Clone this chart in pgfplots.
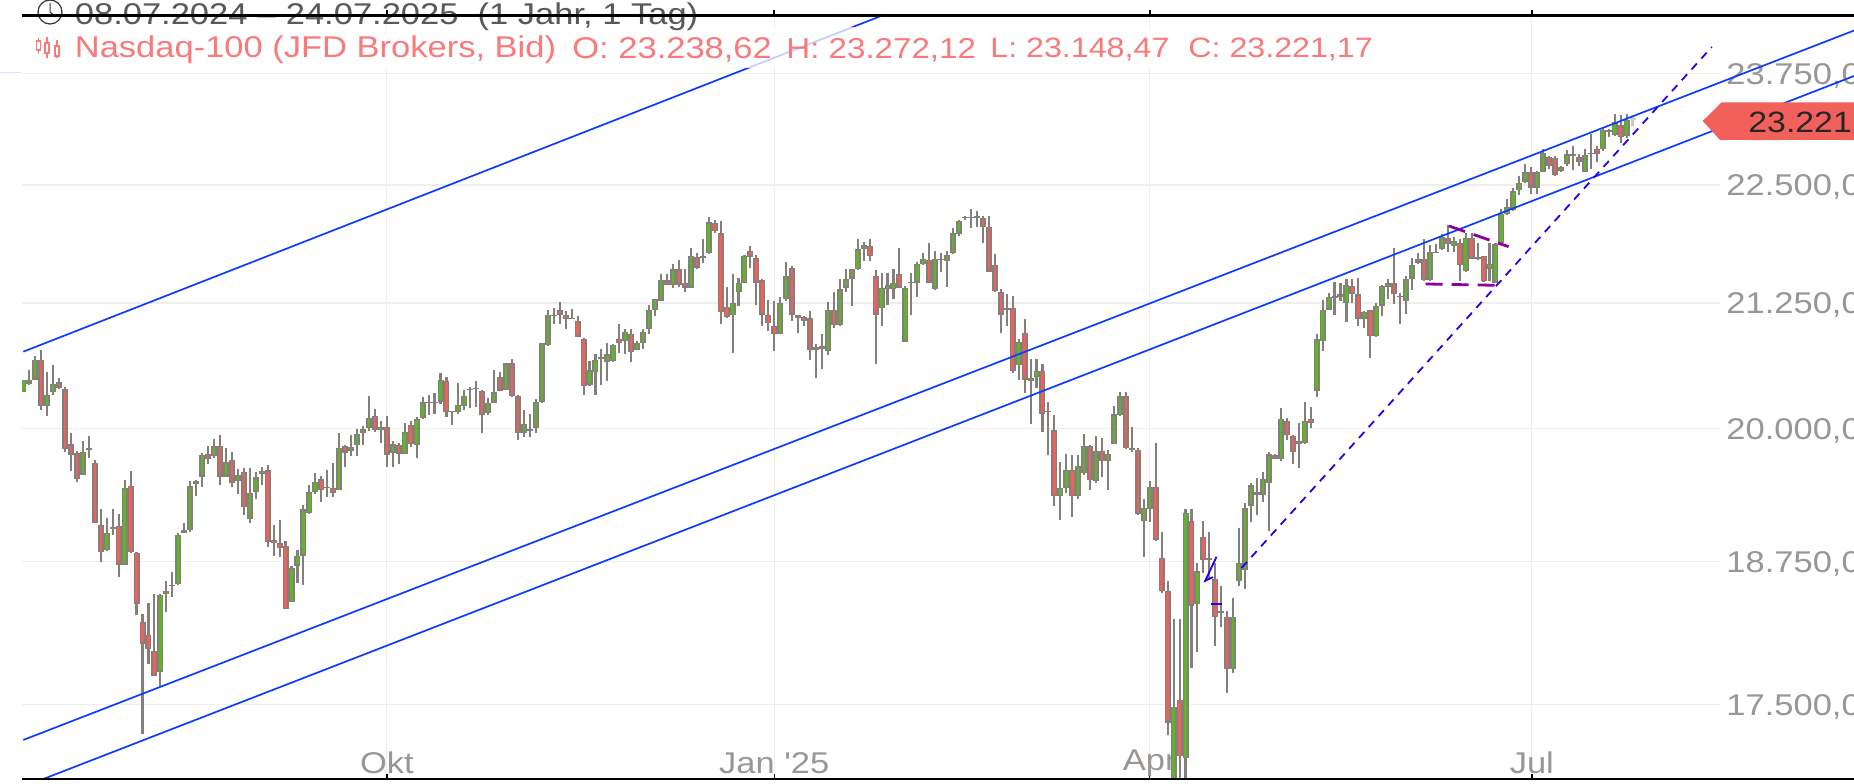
\documentclass[border=0pt]{standalone}
\usepackage{pgfplots}
\usepackage{pgfplotstable}
\usepackage{fontspec}
\pgfplotsset{compat=1.18}
\setmainfont{Liberation Sans}
\newfontfamily\wf[FakeStretch=1.15]{Liberation Sans}
\definecolor{wick}{HTML}{857F7B}
\definecolor{cred}{HTML}{F0605A}
\definecolor{cgreen}{HTML}{5FB528}
\definecolor{gridc}{HTML}{EEEEEE}
\definecolor{lineb}{HTML}{0A3CFF}
\definecolor{dashb}{HTML}{2800E8}
\definecolor{purp}{HTML}{9000A0}
\definecolor{lab}{HTML}{9A9694}
\definecolor{head}{HTML}{F87A7A}
\definecolor{tag}{HTML}{F2605C}
% columns: index, low, body bottom, body top, high
\pgfplotstableread{
x L BL BH H
0 20356 20356 20470 20477
1 20420 20437 20470 20571
2 20470 20477 20672 20712
4 20121 20218 20329 20554
5 20329 20353 20430 20622
10 19553 19560 19778 19877
11 19714 19791 19809 19923
14 18845 18853 19014 19153
15 18999 19051 19070 19236
17 18724 18724 19430 19507
23 17654 17777 18451 18460
24 18299 18460 18489 18577
25 18431 18527 18539 18659
26 18542 18548 18999 19014
27 19014 19014 19039 19107
28 19021 19036 19452 19501
29 19359 19470 19495 19507
30 19446 19538 19747 19760
32 19717 19735 19828 19901
34 19532 19538 19677 19815
36 19378 19495 19553 19615
38 19101 19138 19384 19624
39 19329 19399 19532 19584
40 19461 19563 19593 19630
45 18387 18387 18694 18709
46 18557 18715 18807 18853
47 18542 18807 19230 19276
48 19184 19199 19390 19461
49 19378 19393 19492 19569
51 19344 19430 19436 19606
53 19409 19415 19815 19954
55 19738 19784 19821 19938
56 19738 19840 19945 19994
57 19840 19954 19994 20017
58 19975 20000 20101 20316
60 19861 19982 20013 20074
62 19630 19760 19846 19877
64 19754 19754 19969 20050
66 19714 19837 20091 20108
67 20091 20101 20252 20309
68 20124 20249 20259 20326
70 20235 20259 20477 20538
72 20034 20155 20168 20168
73 20134 20158 20225 20444
74 20181 20218 20319 20370
75 20192 20373 20383 20403
76 20202 20380 20390 20460
78 20124 20151 20249 20292
79 20242 20249 20349 20571
81 20370 20376 20638 20645
84 19914 19960 20040 20175
85 19914 19975 19991 20141
86 19951 20000 20259 20286
87 20242 20252 20840 20847
88 20813 20820 21132 21173
89 21032 21116 21132 21200
92 21089 21089 21099 21193
95 20417 20427 20568 20662
96 20326 20551 20672 20736
97 20420 20679 20706 20780
98 20467 20655 20729 20840
99 20652 20662 20820 20830
101 20729 20864 20954 20988
103 20773 20773 20847 20864
104 20780 20840 20958 20981
105 20931 20981 21183 21233
106 21122 21176 21292 21295
107 21268 21275 21488 21548
109 21408 21432 21600 21653
112 21408 21408 21740 21828
114 21663 21719 21740 21922
115 21758 21768 22097 22155
119 20739 21126 21250 21548
120 21216 21362 21460 21504
121 21453 21460 21740 21747
127 20931 20931 21250 21313
128 21268 21292 21530 21680
133 20494 20773 20806 20830
135 20719 20763 21183 21257
137 21015 21021 21390 21495
138 21362 21408 21502 21600
139 21216 21502 21600 21600
140 21593 21600 21810 21922
141 21688 21817 21856 21887
144 21015 21200 21408 21565
145 21233 21398 21432 21558
146 21292 21390 21460 21600
148 20857 20857 21408 21425
149 21126 21456 21467 21558
150 21307 21460 21653 21677
151 21646 21653 21712 21775
153 21383 21390 21712 21793
154 21572 21698 21712 21775
155 21418 21688 21747 21793
156 21758 21768 21978 22038
157 21950 21968 22108 22125
158 22125 22143 22153 22160
159 22038 22143 22153 22244
160 22048 22143 22160 22223
165 21015 21183 21196 21338
167 20477 20622 20853 20887
169 20040 20460 20494 20685
170 20393 20504 20561 20679
172 19743 20155 20168 20259
174 19129 19355 19433 19681
175 19386 19433 19603 19758
177 19330 19355 19640 19743
178 19557 19572 19833 19944
180 19473 19495 19783 19929
182 19411 19690 19758 19789
183 19851 19851 20134 20215
184 20114 20124 20316 20349
186 19774 19789 19814 20013
188 18797 19123 19247 19324
189 19113 19231 19439 19495
193 16876 16876 17475 18237
195 16876 17051 19200 19231
197 17950 18369 18662 18735
201 18164 18290 18311 18528
203 17768 17798 18252 18419
204 18530 18574 18741 19061
205 18507 18677 19247 19293
206 19113 19268 19458 19485
207 19175 19371 19392 19526
208 19299 19371 19516 19588
209 19030 19479 19749 19774
211 19690 19702 20091 20192
215 19852 19858 20067 20259
217 20309 20366 20880 20931
218 20763 20864 21183 21278
219 21176 21183 21313 21355
220 21132 21303 21327 21467
221 21268 21313 21338 21453
222 21055 21250 21432 21495
225 20998 21089 21156 21166
227 20907 20914 21216 21250
228 21116 21223 21425 21435
229 21292 21415 21453 21495
231 21032 21313 21327 21355
232 21142 21268 21502 21530
233 21383 21502 21642 21723
234 21653 21670 21712 21768
236 21478 21485 21782 21852
237 21775 21775 21786 21863
238 21803 21810 21943 21968
240 21782 21845 21898 21943
242 21572 21583 21933 21985
244 21698 21712 21733 21880
246 21478 21600 21653 21880
247 21460 21460 21863 21880
248 21872 21879 22186 22245
249 22175 22186 22263 22350
250 22221 22228 22437 22472
251 22395 22444 22526 22600
252 22526 22537 22638 22731
254 22402 22465 22638 22656
255 22638 22645 22850 22898
258 22638 22649 22701 22712
259 22712 22731 22835 22879
260 22664 22824 22842 22924
262 22638 22645 22831 22898
263 22675 22835 22850 23058
265 22872 22898 23110 23140
266 23028 23084 23110 23121
267 23036 23047 23196 23289
269 23021 23036 23222 23289
}\upT
\pgfplotstableread{
x L BL BH H
3 20175 20218 20672 20773
6 20386 20396 20450 20497
7 19778 19806 20380 20403
8 19593 19747 19846 19960
9 19492 19513 19769 19784
12 19101 19101 19667 19692
13 18744 18836 19091 19236
16 18606 18724 19076 19193
18 18830 18836 19452 19590
19 18270 18372 18830 18836
20 17244 18020 18211 18284
21 17845 17976 18094 18381
22 17736 17742 17956 18460
31 19661 19707 19754 19831
33 19461 19538 19828 19938
35 19446 19476 19698 19778
37 19175 19252 19584 19624
41 18885 18928 19600 19646
42 18799 18922 18953 19091
43 18793 18876 18922 19128
44 18322 18328 18891 18937
50 19298 19415 19513 19544
52 19344 19384 19430 19667
54 19630 19769 19828 19840
59 19969 19985 20121 20185
61 19630 19747 20013 20118
63 19655 19754 19840 19861
65 19821 19846 20034 20074
69 20141 20242 20259 20343
71 20108 20158 20460 20504
77 19951 20131 20366 20376
80 20360 20366 20501 20551
82 20309 20316 20638 20685
83 19883 19954 20319 20326
90 21032 21132 21183 21260
91 20988 21089 21126 21166
93 20907 20907 21065 21116
94 20326 20410 20887 20897
100 20739 20840 20887 21032
102 20652 20753 20931 20981
108 21432 21439 21485 21548
110 21418 21432 21600 21698
111 21362 21408 21460 21607
113 21607 21618 21733 21775
116 21985 22003 22090 22125
117 21032 21159 21978 22108
118 21099 21109 21210 21418
122 21618 21733 21793 21845
123 21233 21460 21723 21747
124 21015 21132 21485 21495
125 20964 21042 21132 21285
126 20763 20931 21015 21268
129 21065 21132 21610 21635
130 20941 21092 21126 21132
131 21015 21065 21109 21122
132 20672 20773 21092 21166
134 20578 20780 20813 20937
136 20998 21021 21176 21368
142 21688 21740 21845 21922
143 20635 21132 21530 21590
147 21408 21408 21548 21828
152 21460 21460 21698 21873
161 21880 22048 22143 22167
162 21572 21575 22048 22160
163 21362 21373 21646 21758
164 20941 21132 21362 21390
166 20544 20561 21200 21320
168 20343 20477 20948 21082
171 19969 20141 20561 20628
173 19262 19355 19981 20124
176 19160 19355 19603 19743
179 19411 19504 19833 19836
181 19535 19690 19783 19907
185 19805 19814 20316 20349
187 19175 19185 19795 19814
190 18937 18952 19439 19861
191 18466 18486 18782 19020
192 17241 17344 18486 18574
194 16876 17066 17534 18237
196 17812 18354 19123 19237
198 18647 18766 18977 19123
199 18589 18766 18782 19023
200 18003 18252 18589 18735
202 17593 17798 18252 18311
210 19702 19712 19743 19758
212 19888 19935 20074 20101
213 19659 19774 19929 19938
214 19619 19851 19882 20047
216 20000 20047 20091 20208
223 21250 21348 21425 21495
224 21015 21089 21338 21513
226 20696 20914 21183 21183
230 21243 21338 21460 21828
235 21478 21485 21712 21922
239 21782 21870 21933 22073
241 21478 21646 21880 21922
243 21705 21712 21933 21985
245 21467 21478 21740 21740
253 22402 22472 22645 22701
256 22675 22712 22805 22824
257 22600 22612 22798 22824
261 22712 22749 22812 22842
264 22749 22842 22898 22924
268 22961 23028 23158 23270
}\downT
\pgfplotstableread{
x L BL BH H
270 23148 23221 23238 23272
}\lastT
\newcommand\cwick[2]{\addplot[draw=none,mark=none,forget plot,
  error bars/.cd,y dir=plus,y explicit,error mark=none,
  error bar style={line width=1.05pt,#2}]
  table[x=x,y=L,y error plus expr=\thisrow{H}-\thisrow{L}]{#1};}
\newcommand\cbody[2]{\addplot[draw=none,mark=none,forget plot,
  error bars/.cd,y dir=plus,y explicit,error mark=none,
  error bar style={line width=3pt,#2}]
  table[x=x,y=BL,y error plus expr=\thisrow{BH}-\thisrow{BL}]{#1};}
\newcommand\cfill[2]{\addplot[draw=none,mark=none,forget plot,
  error bars/.cd,y dir=plus,y explicit,error mark=none,
  error bar style={line width=1.25pt,#2}]
  table[x=x,y expr=\thisrow{BL}*1.0006,
   y error plus expr={max(\thisrow{BH}*0.9994-\thisrow{BL}*1.0006,0.01)}]{#1};}
\newcommand\PX[2]{({(#1-22)*0.5pt},{(779-#2)*0.5pt})}
\newcommand\hfont{\wf\fontsize{15}{18}\selectfont}
\begin{document}
\begin{tikzpicture}
\begin{axis}[
  at={(0,0)},anchor=south west,
  width=916pt,height=381.5pt,scale only axis,
  xmin=-0.218,xmax=307.16,
  ymode=log,ymin=16876,ymax=24419,
  axis line style={draw=none},
  set layers=standard,
  xtick={61,126,189,253.1},
  xticklabels={Okt,Jan '25,Apr,Jul},
  xtick pos=bottom,
  ytick={17500,18750,20000,21250,22500,23750},
  yticklabels={{17.500,00},{18.750,00},{20.000,00},{21.250,00},{22.500,00},{23.750,00}},
  yticklabel pos=right,
  grid=major,
  major grid style={draw=gridc,line width=0.6pt},
  tick align=inside,
  major tick length=2.5pt,
  x tick style={black,line width=0.7pt},
  y tick style={draw=none},
  minor tick num=0,
  x tick label style={font=\hfont,text=lab,anchor=center,yshift=8pt},
  y tick label style={font=\hfont,text=lab,anchor=east,xshift=16.5pt,yshift=-1.2pt,fill=white,inner ysep=1pt},
]
\cwick{\upT}{wick}
\cwick{\downT}{wick}
\cwick{\lastT}{wick!45}
\cbody{\upT}{wick}
\cbody{\downT}{wick}
\cbody{\lastT}{wick!40}
\cfill{\upT}{cgreen}
\cfill{\downT}{cred}
\cfill{\lastT}{cred!30}
\addplot[lineb,line width=0.85pt,forget plot] coordinates {(0,20755) (143.9,24419)};
\addplot[lineb,line width=0.85pt,forget plot] coordinates {(0,17198) (307.2,24248)};
\addplot[lineb,line width=0.85pt,forget plot] coordinates {(2.97,16868) (307.2,23720)};
\addplot[dashb,line width=0.9pt,dash pattern=on 4pt off 3.3pt,forget plot] coordinates {(204.4,18694) (283.3,24055)};
\addplot[dashb,line width=0.9pt,forget plot] coordinates {(200.2,18794) (198.3,18577) (199.6,18610)};
\addplot[dashb,line width=0.9pt,forget plot] coordinates {(199.2,18371) (201.1,18371)};
\addplot[purp,line width=1.4pt,dash pattern=on 8.5pt off 4.5pt,forget plot] coordinates {(239.2,22058) (249.2,21838)};
\addplot[purp,line width=1.4pt,dash pattern=on 8.5pt off 4.5pt,forget plot] coordinates {(235.3,21447) (247.3,21433)};
\end{axis}
% price tag, over the channel line
\fill[tag] \PX{1702.7}{121} -- \PX{1721.7}{102.3} -- \PX{1860}{102.3} -- \PX{1860}{140} -- \PX{1720}{140} -- cycle;
\node[anchor=west,inner sep=0pt,text=black!85] at \PX{1748}{124} {\wf\fontsize{14.7}{18}\selectfont 23.221,17};
% translucent band behind the legend row
\fill[white,opacity=0.75] \PX{22}{27} rectangle \PX{1375}{68};
% header texts
\node[anchor=west,inner sep=0pt,text=black!65] at \PX{74.5}{17} {\hfont 08.07.2024 – 24.07.2025\ \ (1 Jahr, 1 Tag)};
\begin{scope}[every node/.style={anchor=west,inner sep=0pt,text=head}]
\node at \PX{74.5}{50} {\hfont Nasdaq-100 (JFD Brokers, Bid)};
\node at \PX{572}{50} {\hfont O: 23.238,62};
\node at \PX{786}{50} {\wf\fontsize{14.4}{18}\selectfont H: 23.272,12};
\node at \PX{990}{50} {\wf\fontsize{14}{18}\selectfont L: 23.148,47};
\node at \PX{1188}{50} {\wf\fontsize{14}{18}\selectfont C: 23.221,17};
\end{scope}
% clock icon
\draw[black!80,line width=0.6pt] \PX{50}{12} circle (6pt);
\draw[black!80,line width=0.5pt] \PX{50}{3} -- \PX{50}{12} -- \PX{56}{17};
% candle icon
\begin{scope}[draw=head,line width=0.55pt]
\draw \PX{38.5}{38} -- \PX{38.5}{54}; \draw[fill=white] \PX{36.5}{41} rectangle \PX{40.5}{50};
\draw \PX{47}{37} -- \PX{47}{58}; \draw[fill=white] \PX{45}{43} rectangle \PX{49}{53};
\draw \PX{57}{40} -- \PX{57}{58}; \draw[fill=white] \PX{55}{46} rectangle \PX{59}{56};
\end{scope}
% frame lines and top ticks
\draw[black,line width=1.25pt] \PX{22}{15.5} -- \PX{1860}{15.5};
\draw[black,line width=1.25pt] \PX{22}{779} -- \PX{1860}{779};
\foreach \t in {387,774,1150,1532} {\draw[black,line width=0.7pt] \PX{\t}{10} -- \PX{\t}{15};}
\draw[blue!12,line width=0.5pt] \PX{0}{73} -- \PX{22}{73};
\pgfresetboundingbox
\path[use as bounding box] \PX{0}{783} rectangle \PX{1854}{0};
\end{tikzpicture}
\end{document}
